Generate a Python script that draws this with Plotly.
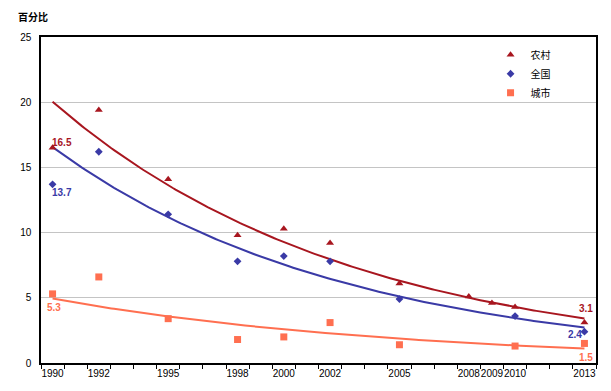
import numpy as np
import plotly.graph_objects as go

# ---- data ----
tick_years = [1990, 1992, 1995, 1998, 2000, 2002, 2005, 2008, 2009, 2010, 2013]
tick_labels = ["1990", "1992", "1995", "1998", "2000", "2002", "2005", "2008", "2009", "2010", "2013"]

rural_years = [1990, 1992, 1995, 1998, 2000, 2002, 2005, 2008, 2009, 2010, 2013]
rural_values = [16.5, 19.4, 14.1, 9.8, 10.3, 9.2, 6.1, 5.1, 4.6, 4.3, 3.1]

national_years = [1990, 1992, 1995, 1998, 2000, 2002, 2005, 2010, 2013]
national_values = [13.7, 16.2, 11.4, 7.8, 8.2, 7.8, 4.9, 3.6, 2.4]

urban_years = [1990, 1992, 1995, 1998, 2000, 2002, 2005, 2010, 2013]
urban_values = [5.3, 6.6, 3.4, 1.8, 2.0, 3.1, 1.4, 1.3, 1.5]

series_names = ["农村", "全国", "城市"]

# ---- styles ----
C_RURAL = "#A8161F"
C_NAT = "#3A3AA6"
C_URB = "#FF6F50"
FONT = "Liberation Sans, Arial, Noto Sans CJK SC, sans-serif"
CJK = "Noto Sans CJK SC, sans-serif"

W, H = 603, 383  # page body has an 8px margin


def exp_trend(years, values):
    x = np.array(years, dtype=float)
    y = np.log(np.array(values, dtype=float))
    a, b = np.polyfit(x - x[0], y, 1)
    xs = np.linspace(x[0], x[-1], 200)
    return xs, np.exp(b + a * (xs - x[0]))


fig = go.Figure()

series = [
    (series_names[0], rural_years, rural_values, C_RURAL, "triangle-up", 7),
    (series_names[1], national_years, national_values, C_NAT, "diamond", 6),
    (series_names[2], urban_years, urban_values, C_URB, "square", 7),
]

for name, yrs, vals, col, sym, sz in series:
    xs, ys = exp_trend(yrs, vals)
    fig.add_trace(go.Scatter(x=xs, y=ys, mode="lines", line=dict(color=col, width=2),
                             showlegend=False, hoverinfo="skip"))

for name, yrs, vals, col, sym, sz in series:
    fig.add_trace(go.Scatter(x=yrs, y=vals, mode="markers", name=name,
                             marker=dict(symbol=sym, size=sz, color=col)))

# value labels
labels = [
    (rural_years[0], rural_values[0], C_RURAL, 9.5, 5),
    (national_years[0], national_values[0], C_NAT, 9.5, -8),
    (urban_years[0], urban_values[0], C_URB, 1.5, -14),
    (rural_years[-1], rural_values[-1], C_RURAL, 2, 14.5),
    (national_years[-1], national_values[-1], C_NAT, -9, -2.5),
    (urban_years[-1], urban_values[-1], C_URB, 2, -14.5),
]
for x, y, col, dx, dy in labels:
    fig.add_annotation(x=x, y=y, text="<b>%.1f</b>" % y, showarrow=False,
                       xshift=dx, yshift=dy, font=dict(family=FONT, size=10, color=col))

fig.update_layout(
    width=W, height=H,
    margin=dict(l=29, r=15, t=29, b=28),
    paper_bgcolor="white", plot_bgcolor="white",
    title=dict(text="<b>百分比</b>", x=10 / W, xanchor="left", y=1 - 9 / H, yanchor="middle",
               font=dict(family=CJK, size=10, color="black")),
    legend=dict(x=0.81, y=0.99, xanchor="left", yanchor="top", itemwidth=30,
                font=dict(family=CJK, size=10, color="black"), bgcolor="rgba(0,0,0,0)",
                tracegroupgap=0),
    showlegend=True,
)

fig.update_xaxes(
    range=[1989.5, 2013.5], tickmode="array", tickvals=tick_years, ticktext=tick_labels,
    tickangle=0, ticks="outside", ticklen=0,
    minor=dict(ticks="outside", tick0=1989.5, dtick=1, ticklen=4, tickcolor="black", showgrid=False),
    showline=True, linecolor="black", linewidth=1.5, mirror=True,
    showgrid=False, zeroline=False,
    tickfont=dict(family=FONT, size=10, color="black"),
)
fig.update_yaxes(
    range=[0, 25], tickmode="array", tickvals=[0, 5, 10, 15, 20, 25],
    showline=True, linecolor="black", linewidth=1.5, mirror=True,
    showgrid=True, gridcolor="#C4C4C4", gridwidth=1.2, zeroline=False,
    ticks="", ticklabelstandoff=6,
    tickfont=dict(family=FONT, size=10, color="black"),
)

fig.write_html("out.html")
